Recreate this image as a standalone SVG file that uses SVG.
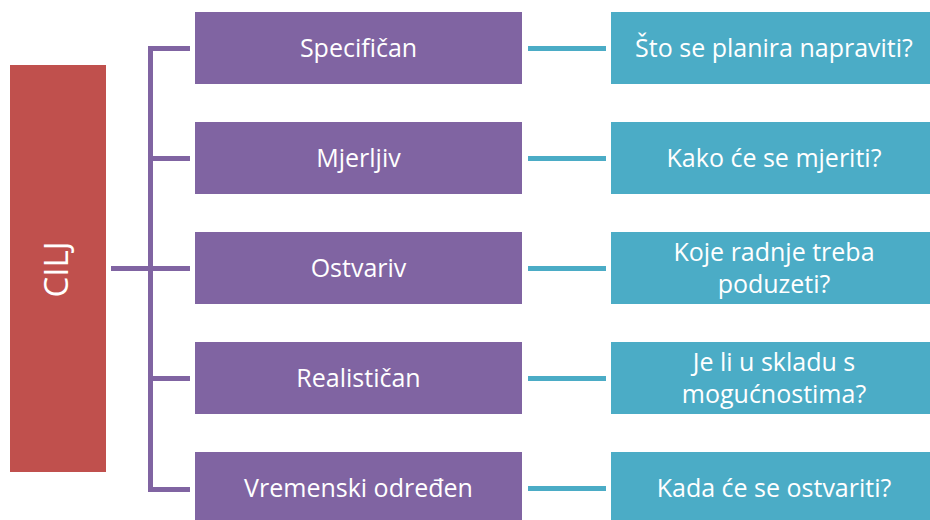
<svg xmlns="http://www.w3.org/2000/svg" width="930" height="520" viewBox="0 0 930 520">
  <style>
    .goal { fill: #C0504D; }
    .crit { fill: #8064A2; }
    .q { fill: #4BACC6; }
    .txt { font-family: "Open Sans", "Liberation Sans", sans-serif; font-size: 25px; fill: #FFFFFF; text-anchor: middle; }
    .big { font-size: 33px; }
    .bracket { fill: none; stroke: #8064A2; stroke-width: 5; stroke-linejoin: miter; }
    .link { fill: none; stroke: #4BACC6; stroke-width: 5; }
  </style>
  <rect width="930" height="520" fill="#FFFFFF"/>
  <g id="connectors">
    <path class="bracket" d="M190 48.5 H150.5 V489.5 H190"/>
    <path class="bracket" d="M150.5 158.5 H190 M111 268.5 H190 M150.5 378.5 H190"/>
    <path class="link" d="M528 48.5 H606 M528 158.5 H606 M528 268.5 H606 M528 378.5 H606 M528 488.5 H606"/>
  </g>
  <g id="cilj">
    <rect class="goal" x="10" y="65" width="96" height="407"/>
    <text class="txt big" transform="translate(68 269.5) rotate(-90)">CILJ</text>
  </g>
  <g id="specifican">
    <rect class="crit" x="195" y="12" width="327" height="72"/>
    <text class="txt" x="358.5" y="56.5">Specifičan</text>
  </g>
  <g id="mjerljiv">
    <rect class="crit" x="195" y="122" width="327" height="72"/>
    <text class="txt" x="358.5" y="166.5">Mjerljiv</text>
  </g>
  <g id="ostvariv">
    <rect class="crit" x="195" y="232" width="327" height="72"/>
    <text class="txt" x="358.5" y="276.5">Ostvariv</text>
  </g>
  <g id="realistican">
    <rect class="crit" x="195" y="342" width="327" height="72"/>
    <text class="txt" x="358.5" y="386.5">Realističan</text>
  </g>
  <g id="vremenski">
    <rect class="crit" x="195" y="452" width="327" height="72"/>
    <text class="txt" x="358.5" y="496.5">Vremenski određen</text>
  </g>
  <g id="q1">
    <rect class="q" x="611" y="12" width="326" height="72"/>
    <text class="txt" x="774" y="56.5">Što se planira napraviti?</text>
  </g>
  <g id="q2">
    <rect class="q" x="611" y="122" width="326" height="72"/>
    <text class="txt" x="774" y="166.5">Kako će se mjeriti?</text>
  </g>
  <g id="q3">
    <rect class="q" x="611" y="232" width="326" height="72"/>
    <text class="txt" x="774" y="260.5">Koje radnje treba</text>
    <text class="txt" x="774" y="292.5">poduzeti?</text>
  </g>
  <g id="q4">
    <rect class="q" x="611" y="342" width="326" height="72"/>
    <text class="txt" x="774" y="370.5">Je li u skladu s</text>
    <text class="txt" x="774" y="402.5">mogućnostima?</text>
  </g>
  <g id="q5">
    <rect class="q" x="611" y="452" width="326" height="72"/>
    <text class="txt" x="774" y="496.5">Kada će se ostvariti?</text>
  </g>
</svg>
